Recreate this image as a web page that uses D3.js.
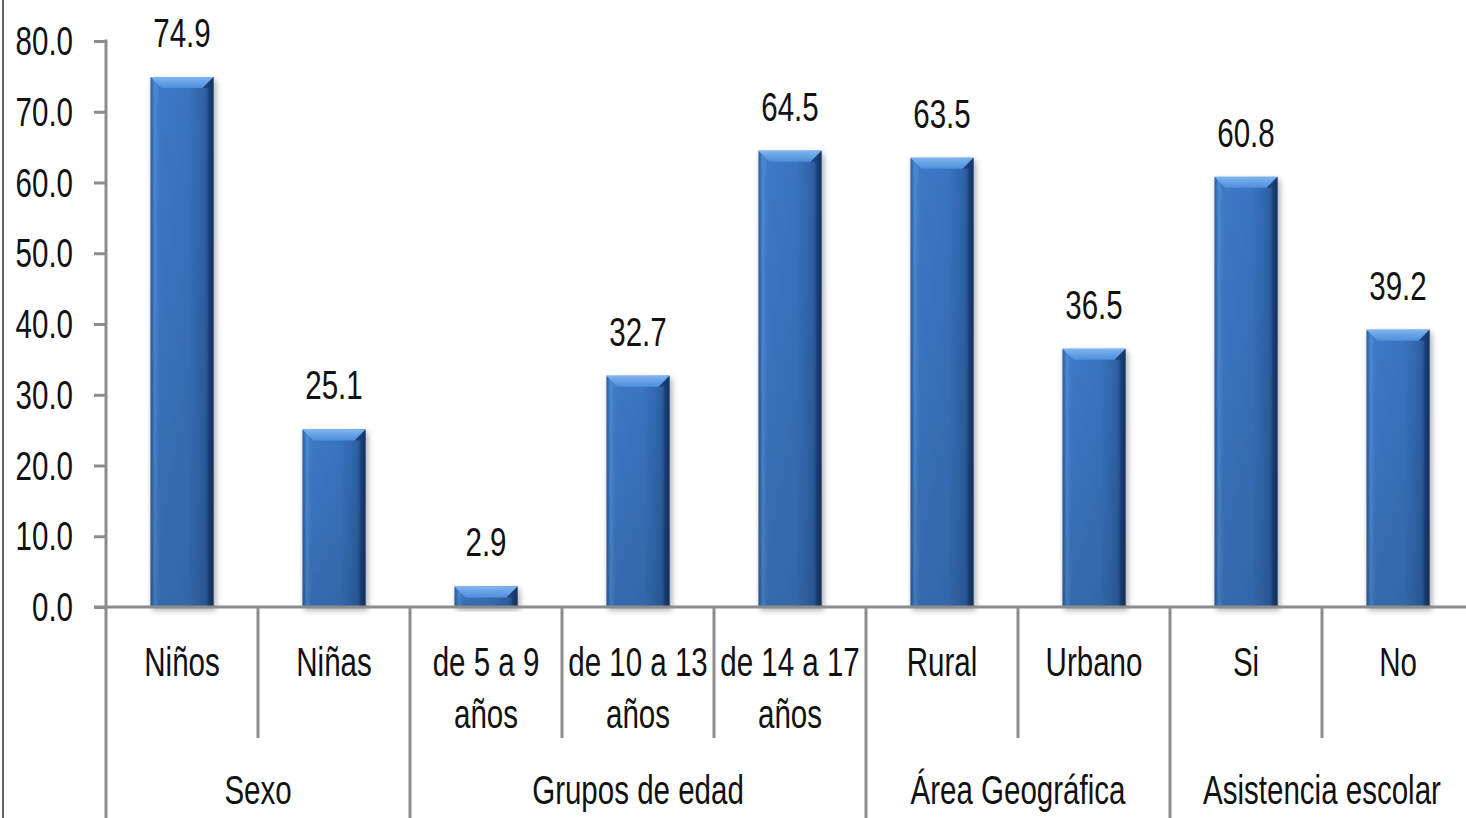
<!DOCTYPE html>
<html>
<head>
<meta charset="utf-8">
<script src="https://cdn.jsdelivr.net/npm/d3@7"></script>
<style>
  html, body { margin: 0; padding: 0; background: #fff; }
  svg { display: block; }
  text { font-family: "Liberation Sans", Arial, sans-serif; fill: #111; }
</style>
</head>
<body>
<svg id="chart" width="1466" height="818"></svg>
<script>
const categories = [
  ['Niños'], ['Niñas'], ['de 5 a 9', 'años'], ['de 10 a 13', 'años'], ['de 14 a 17', 'años'],
  ['Rural'], ['Urbano'], ['Si'], ['No']
];
const values = [74.9, 25.1, 2.9, 32.7, 64.5, 63.5, 36.5, 60.8, 39.2];
const groups = ['Sexo', 'Grupos de edad', 'Área Geográfica', 'Asistencia escolar'];
const groupSizes = [2, 3, 2, 2];
const yTicks = [0, 10, 20, 30, 40, 50, 60, 70, 80];

// narrow look: regular face squeezed sideways, stretched a bit tall
const FS = 36, SX = 0.82, SY = 1.15;
const AXIS = '#8c8c8c';

const svg = d3.select('#chart');
const left = 106, step = 152, y0 = 607, yTop = 41;

const x = d3.scaleBand().domain(d3.range(values.length))
  .range([left, left + step * values.length])
  .paddingInner(0.585).paddingOuter(0.2925);
const y = d3.scaleLinear().domain([0, 80]).range([y0, yTop]);

function label(g, tx, ty, str, anchor) {
  g.append('text')
    .attr('transform', `translate(${tx},${ty}) scale(${SX},${SY})`)
    .attr('text-anchor', anchor || 'middle')
    .attr('font-size', FS)
    .text(str);
}

const defs = svg.append('defs');
const body = defs.append('linearGradient').attr('id', 'barBody');
[[0, '#2a5a9a'], [0.07, '#4d8ad6'], [0.14, '#3d78c6'], [0.6, '#3a74c0'], [0.86, '#2e62a8'], [1, '#183a6a']]
  .forEach(([o, c]) => body.append('stop').attr('offset', o).attr('stop-color', c));
const shade = defs.append('linearGradient').attr('id', 'barShade').attr('x1', 0).attr('y1', 0).attr('x2', 0).attr('y2', 1);
shade.append('stop').attr('offset', 0).attr('stop-color', '#000').attr('stop-opacity', 0);
shade.append('stop').attr('offset', 1).attr('stop-color', '#000').attr('stop-opacity', 0.12);
const bevel = defs.append('linearGradient').attr('id', 'bevel').attr('x1', 0).attr('y1', 0).attr('x2', 0).attr('y2', 1);
bevel.append('stop').attr('offset', 0).attr('stop-color', '#7db5f0');
bevel.append('stop').attr('offset', 1).attr('stop-color', '#4f8edb');
const shadow = defs.append('filter').attr('id', 'shadow').attr('x', '-20%').attr('y', '-20%').attr('width', '140%').attr('height', '140%');
shadow.append('feGaussianBlur').attr('in', 'SourceAlpha').attr('stdDeviation', 3);
shadow.append('feOffset').attr('dx', 2).attr('dy', 3).attr('result', 'b');
shadow.append('feComponentTransfer').append('feFuncA').attr('type', 'linear').attr('slope', 0.35);
const merge = shadow.append('feMerge');
merge.append('feMergeNode');
merge.append('feMergeNode').attr('in', 'SourceGraphic');

// left border
svg.append('line').attr('x1', 3).attr('x2', 3).attr('y1', 0).attr('y2', 818)
  .attr('stroke', '#333').attr('stroke-width', 1.5);

// y axis
const yAxis = svg.append('g').attr('transform', `translate(${left},0)`)
  .call(d3.axisLeft(y).tickValues(yTicks).tickSize(12).tickFormat(d3.format('.1f')));
yAxis.select('.domain').remove();
yAxis.selectAll('.tick line').attr('stroke', AXIS).attr('stroke-width', 3);
yAxis.selectAll('.tick text').remove();
yTicks.forEach(t => label(svg, 73, y(t) + 14, d3.format('.1f')(t), 'end'));
svg.append('line').attr('x1', left).attr('x2', left).attr('y1', yTop - 1.5).attr('y2', 818)
  .attr('stroke', AXIS).attr('stroke-width', 3);

// bars
const bars = svg.append('g').selectAll('g').data(values).join('g').attr('filter', 'url(#shadow)');
const bw = x.bandwidth();
bars.append('rect')
  .attr('x', (d, i) => x(i)).attr('y', d => y(d))
  .attr('width', bw).attr('height', d => y0 - y(d))
  .attr('fill', 'url(#barBody)');
bars.append('rect')
  .attr('x', (d, i) => x(i)).attr('y', d => y(d))
  .attr('width', bw).attr('height', d => y0 - y(d))
  .attr('fill', 'url(#barShade)');
const bev = 11;
bars.append('path')
  .attr('d', (d, i) => {
    const x1 = x(i), x2 = x(i) + bw, t = y(d), h = Math.min(bev, (y0 - y(d)) * 0.55);
    return `M${x1},${t}L${x2},${t}L${x2 - bev},${t + h}L${x1 + bev},${t + h}Z`;
  })
  .attr('fill', 'url(#bevel)');
bars.append('path')
  .attr('d', (d, i) => {
    const x2 = x(i) + bw, t = y(d), h = Math.min(bev, (y0 - y(d)) * 0.55);
    return `M${x2},${t}L${x2},${y0}L${x2 - 5},${y0}L${x2 - 5},${t + h}L${x2 - bev},${t + h}Z`;
  })
  .attr('fill', '#13325e').attr('opacity', 0.55);

// value labels
values.forEach((v, i) => label(svg, x(i) + bw / 2, y(v) - 30, d3.format('.1f')(v)));

// x axis
svg.append('line').attr('x1', left - 12).attr('x2', 1466).attr('y1', y0).attr('y2', y0)
  .attr('stroke', AXIS).attr('stroke-width', 3);

let idx = 0;
const groupBounds = [];
groupSizes.forEach(n => { groupBounds.push([idx, idx + n]); idx += n; });
const isGroupEdge = new Set(groupBounds.map(b => b[1]));
for (let i = 1; i <= values.length; i++) {
  const xs = left + i * step;
  svg.append('line').attr('x1', xs).attr('x2', xs).attr('y1', y0)
    .attr('y2', isGroupEdge.has(i) ? 818 : 738)
    .attr('stroke', AXIS).attr('stroke-width', 3);
}

categories.forEach((lines, i) => {
  const cx = left + (i + 0.5) * step;
  lines.forEach((s, j) => label(svg, cx, 676 + j * 52, s));
});
groups.forEach((gname, k) => {
  const [a, b] = groupBounds[k];
  label(svg, left + (a + b) / 2 * step, 804, gname);
});
</script>
</body>
</html>
